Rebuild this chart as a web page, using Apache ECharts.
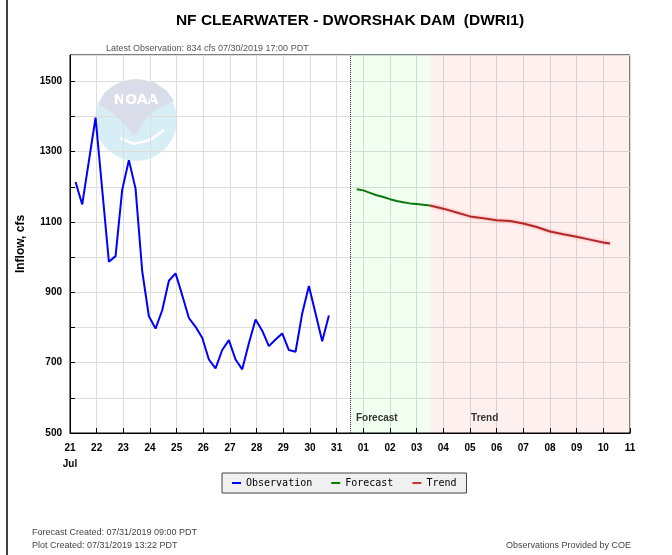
<!DOCTYPE html>
<html>
<head>
<meta charset="utf-8">
<script src="https://cdn.jsdelivr.net/npm/echarts@6/dist/echarts.min.js"></script>
<style>
  html, body { margin: 0; padding: 0; background: #fff; }
  #chart { width: 672px; height: 555px; }
</style>
</head>
<body>
<div id="chart"></div>
<script>
// x axis is days since Jul 21 00:00
const dayLabels = ["21\nJul", "22", "23", "24", "25", "26", "27", "28", "29", "30", "31",
  "01", "02", "03", "04", "05", "06", "07", "08", "09", "10", "11"];
const yLabels = [500, 700, 900, 1100, 1300, 1500];

const obsTimes = ["07/21 05", "07/21 11", "07/21 23", "07/22 11", "07/22 17", "07/22 23",
  "07/23 05", "07/23 11", "07/23 17", "07/23 23", "07/24 05", "07/24 11", "07/24 17",
  "07/24 23", "07/25 05", "07/25 11", "07/25 17", "07/25 23", "07/26 05", "07/26 11",
  "07/26 17", "07/26 23", "07/27 05", "07/27 11", "07/27 17", "07/27 23", "07/28 05",
  "07/28 11", "07/28 17", "07/28 23", "07/29 05", "07/29 11", "07/29 17", "07/29 23",
  "07/30 05", "07/30 11", "07/30 17"];
const obsValues = [1214, 1150, 1397, 987, 1003, 1192, 1276, 1195, 960, 832, 797, 849, 933,
  954, 892, 827, 802, 771, 709, 684, 736, 764, 709, 681, 755, 823, 791, 747, 766, 783,
  736, 731, 840, 918, 840, 761, 834];

const fcstTimes = ["07/31 18", "08/01 00", "08/01 06", "08/01 12", "08/01 18", "08/02 00",
  "08/02 06", "08/02 12", "08/02 18", "08/03 00", "08/03 06", "08/03 12"];
const fcstValues = [1193, 1190, 1183, 1176, 1171, 1165, 1160, 1156, 1153, 1151, 1149, 1147];

const trendTimes = ["08/03 12", "08/04 00", "08/04 12", "08/05 00", "08/05 12", "08/06 00",
  "08/06 12", "08/07 00", "08/07 12", "08/08 00", "08/08 12", "08/09 00", "08/09 12",
  "08/10 00", "08/10 06"];
const trendValues = [1147, 1138, 1127, 1116, 1111, 1105, 1103, 1096, 1086, 1073, 1065,
  1058, 1050, 1042, 1039];

const forecastStart = "07/31 12";
const trendStart = "08/03 13";

function toDay(s) {
  const [md, hh] = s.split(" ");
  const [m, d] = md.split("/").map(Number);
  const dayOfJul = m === 7 ? d : 31 + d;
  return dayOfJul - 21 + Number(hh) / 24;
}
function pairs(times, values) {
  return times.map((t, i) => [toDay(t), values[i]]);
}

const chart = echarts.init(document.getElementById("chart"));
const labelFont = { fontFamily: "Liberation Sans", fontWeight: "bold", fontSize: 10, color: "#000" };
const zoneLabel = { fontFamily: "Liberation Sans", fontWeight: "bold", fontSize: 10, color: "#333" };

chart.setOption({
  animation: false,
  title: [
    {
      text: "NF CLEARWATER - DWORSHAK DAM  (DWRI1)",
      left: 345, top: 8, textAlign: "center",
      textStyle: { fontFamily: "Liberation Sans", fontWeight: "bold", fontSize: 15.5, color: "#000" }
    },
    {
      text: "Latest Observation: 834 cfs 07/30/2019 17:00 PDT",
      left: 101, top: 39,
      textStyle: { fontFamily: "Liberation Sans", fontWeight: "normal", fontSize: 9, color: "#555" }
    }
  ],
  legend: {
    left: 222, top: 473,
    padding: [5, 10, 5, 10],
    itemWidth: 9, itemHeight: 2, itemGap: 19,
    icon: "rect",
    backgroundColor: "#f0f0f0",
    borderColor: "#444", borderWidth: 1,
    textStyle: { fontFamily: "DejaVu Sans Mono", fontSize: 10, color: "#000" },
    data: ["Observation", "Forecast", "Trend"]
  },
  grid: {
    left: 70, right: 42, top: 55, bottom: 122,
    show: true, borderColor: "#000", borderWidth: 1, backgroundColor: "#fff"
  },
  xAxis: {
    type: "value", min: 0, max: 21, interval: 1,
    name: "Day of Month", nameLocation: "middle", nameGap: 31,
    nameTextStyle: { fontFamily: "Liberation Sans", fontWeight: "bold", fontSize: 12, color: "#000" },
    axisLine: { lineStyle: { color: "#000" } },
    axisTick: { inside: true, length: 5, lineStyle: { color: "#000" } },
    axisLabel: Object.assign({}, labelFont, {
      margin: 7, lineHeight: 16, verticalAlign: "top",
      formatter: v => dayLabels[Math.round(v)]
    }),
    splitLine: { lineStyle: { color: "#dddddd" } }
  },
  yAxis: {
    type: "value", min: 500, max: 1575, interval: 100,
    name: "Inflow, cfs", nameLocation: "middle", nameGap: 43,
    nameTextStyle: { fontFamily: "Liberation Sans", fontWeight: "bold", fontSize: 12, color: "#000" },
    axisLine: { show: true, lineStyle: { color: "#000" } },
    axisTick: { inside: true, length: 5, lineStyle: { color: "#000" } },
    axisLabel: Object.assign({}, labelFont, {
      margin: 8, showMaxLabel: false,
      formatter: v => (yLabels.indexOf(v) >= 0 ? String(v) : "")
    }),
    splitLine: { lineStyle: { color: "#dddddd" } }
  },
  graphic: [
    { type: "line", shape: { x1: 7, y1: 0, x2: 7, y2: 555 }, style: { stroke: "#000", lineWidth: 1.5 }, silent: true },
    {
      type: "group", z: 0, silent: true,
      children: [
        { type: "circle", shape: { cx: 136, cy: 120, r: 41 }, style: { fill: "#d8eef7" } },
        {
          type: "polygon",
          shape: { points: [[98, 104], [105, 92], [118, 83], [136, 79], [154, 82], [167, 91], [174, 101],
            [160, 108], [148, 116], [140, 128], [134, 136], [126, 126], [114, 114]] },
          style: { fill: "#d9dde9" }
        },
        {
          type: "polyline",
          shape: { points: [[120, 138], [134, 144], [150, 140], [164, 130]] },
          style: { stroke: "#ffffff", lineWidth: 2.5, fill: null }
        },
        {
          type: "text", x: 136, y: 100,
          style: { text: "NOAA", fill: "#ffffff", fontFamily: "DejaVu Sans", fontWeight: "bold", fontSize: 14, align: "center", verticalAlign: "middle" }
        }
      ]
    },
    {
      type: "text", left: 32, top: 528,
      style: { text: "Forecast Created: 07/31/2019 09:00 PDT", fill: "#444", fontFamily: "Liberation Sans", fontSize: 9 }
    },
    {
      type: "text", left: 32, top: 541,
      style: { text: "Plot Created: 07/31/2019 13:22 PDT", fill: "#444", fontFamily: "Liberation Sans", fontSize: 9 }
    },
    {
      type: "text", right: 41, top: 541,
      style: { text: "Observations Provided by COE", fill: "#444", fontFamily: "Liberation Sans", fontSize: 9 }
    }
  ],
  series: [
    {
      name: "Observation", type: "line", data: pairs(obsTimes, obsValues),
      showSymbol: false, color: "#0000ff", lineStyle: { width: 2, color: "#0000ff" }, z: 3,
      markLine: {
        silent: true, symbol: "none", label: { show: false },
        lineStyle: { color: "#333", type: "dotted", width: 1 },
        data: [{ xAxis: toDay(forecastStart) }]
      }
    },
    {
      name: "Forecast", type: "line", data: pairs(fcstTimes, fcstValues),
      showSymbol: false, color: "#008000", lineStyle: { width: 2, color: "#0a7a0a" }, z: 3,
      markArea: {
        silent: true,
        label: Object.assign({ show: true, position: "insideBottomLeft", formatter: "{b}" }, zoneLabel),
        data: [[
          {
            name: "Forecast",
            xAxis: toDay(forecastStart),
            itemStyle: { color: "rgba(0,255,0,0.06)" },
            label: { offset: [1, -5] }
          },
          { xAxis: toDay(trendStart) }
        ], [
          {
            name: "Trend",
            xAxis: toDay(trendStart),
            itemStyle: { color: "rgba(255,0,0,0.06)" },
            label: { offset: [35, -5] }
          },
          { xAxis: 21 }
        ]]
      }
    },
    {
      name: "Trend", type: "line", data: pairs(trendTimes, trendValues),
      showSymbol: false, color: "#cc3333",
      lineStyle: { width: 2, color: "#b02a2a", shadowBlur: 3, shadowColor: "rgba(255,120,120,0.8)" }, z: 3
    }
  ]
});
</script>
</body>
</html>
